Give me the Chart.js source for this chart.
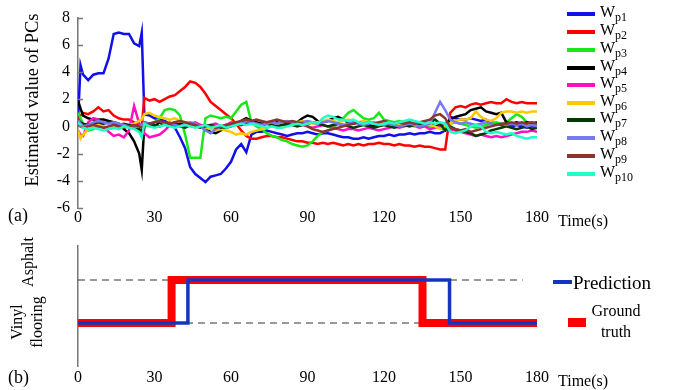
<!DOCTYPE html>
<html><head><meta charset="utf-8">
<script src="https://cdn.jsdelivr.net/npm/chart.js@4.4.0/dist/chart.umd.min.js"></script>
<style>
html,body{margin:0;padding:0;background:#fff;}
#wrap{position:relative;width:677px;height:390px;overflow:hidden;font-family:'Liberation Serif','Times New Roman',serif;color:#000;}
canvas{position:absolute;}
.t{position:absolute;white-space:nowrap;line-height:1;}
.c{transform:translate(-50%,-50%);}
.r{transform:translate(-50%,-50%) rotate(-90deg);}
.sw{position:absolute;}
sub{font-size:12px;vertical-align:-4px;line-height:0;}
</style></head><body>
<div id="wrap">
<canvas id="c1" width="560" height="232" style="left:0;top:0"></canvas>
<canvas id="c2" width="560" height="158" style="left:0;top:232px"></canvas>
<div class="t r" style="left:32px;top:100px;font-size:18.5px">Estimated value of PCs</div>
<div class="t" style="left:8px;top:206px;font-size:18px">(a)</div>
<div class="t" style="left:558px;top:213px;font-size:16px">Time(s)</div>
<div class="t" style="left:8px;top:368px;font-size:18px">(b)</div>
<div class="t" style="left:558px;top:373px;font-size:16px">Time(s)</div>
<div class="t r" style="left:28px;top:262px;font-size:16px">Asphalt</div>
<div class="t r" style="left:17px;top:322px;font-size:16px">Vinyl</div>
<div class="t r" style="left:37px;top:322px;font-size:16px">flooring</div>
<div id="leg1"></div>
<div class="sw" style="left:553px;top:280px;width:19px;height:4px;background:#1535c0"></div>
<div class="t" style="left:573px;top:273px;font-size:19px">Prediction</div>
<div class="sw" style="left:568px;top:318px;width:18px;height:9px;background:#ff0000"></div>
<div class="t c" style="left:616px;top:311px;font-size:16px">Ground</div>
<div class="t c" style="left:616px;top:332px;font-size:16px">truth</div>
</div>
<script>
const SERIF = "'Liberation Serif','Times New Roman',serif";

const time = [0,1,2,4,6,8,10,12,14,16,18,20,22,
  24,25,26,
  28,30,32,34,36,38,40,42,44,46,
  48,50,52,54,56,58,60,62,64,66,
  68,70,72,74,76,78,80,82,84,86,
  88,90,92,94,96,98,100,102,104,106,
  108,110,112,114,116,118,120,122,124,126,
  128,130,132,134,136,138,140,142,144,146,
  148,150,152,154,156,158,160,162,164,166,
  168,170,172,174,176,178,180];

const wp1 = [0.4,4.5,3.8,3.4,3.8,3.9,3.9,5.0,6.8,6.9,6.8,6.8,6.1,
  5.9,6.9,0.9,
  0.8,0.6,0.5,0.4,0.2,-0.1,-0.8,-1.6,-3.0,-3.5,
  -3.8,-4.1,-3.7,-3.6,-3.5,-3.1,-2.6,-1.7,-1.3,-1.9,
  -0.6,-0.4,-0.4,-0.3,-0.4,-0.5,-0.6,-0.7,-0.6,-0.5,
  -0.5,-0.4,-0.5,-0.6,-0.5,-0.5,-0.6,-0.7,-0.8,-0.8,
  -0.9,-0.9,-0.8,-0.9,-0.8,-0.7,-0.7,-0.6,-0.7,-0.6,
  -0.6,-0.5,-0.6,-0.5,-0.5,-0.4,-0.5,-0.5,-0.3,0.7,
  0.6,0.5,0.5,0.6,0.5,0.4,0.5,0.3,0.2,0.1,
  0.1,0.0,0.1,0.0,-0.1,0.0,0.0];

const wp2 = [0.4,0.8,1.0,0.9,1.1,1.4,1.1,1.2,0.8,0.6,0.5,0.5,0.3,
  0.1,0.0,2.1,
  1.9,2.0,1.8,2.0,2.2,2.3,2.6,2.9,3.3,3.2,
  2.9,2.4,1.8,1.5,1.2,0.9,0.6,0.2,-0.3,-0.7,
  -0.9,-0.9,-0.8,-0.7,-0.7,-0.8,-0.8,-0.9,-1.0,-1.1,
  -1.1,-1.2,-1.2,-1.3,-1.2,-1.3,-1.2,-1.3,-1.4,-1.3,
  -1.4,-1.3,-1.4,-1.3,-1.3,-1.2,-1.3,-1.3,-1.4,-1.3,
  -1.4,-1.4,-1.5,-1.4,-1.5,-1.5,-1.6,-1.7,-1.7,1.0,
  1.4,1.5,1.4,1.6,1.7,1.6,1.7,1.8,1.7,1.7,
  2.0,1.8,1.7,1.8,1.7,1.7,1.7];

const wp3 = [1.0,0.6,0.2,-0.3,-0.2,0.0,-0.1,-0.2,-0.1,0.0,0.1,0.0,-0.1,
  -0.3,-0.6,0.0,
  0.1,0.3,0.6,1.2,1.3,1.2,0.8,-0.6,-2.3,-2.3,
  -2.3,0.6,0.8,0.7,0.6,0.7,0.6,1.1,1.6,1.8,
  0.3,0.0,-0.2,-0.5,-0.7,-0.8,-1.0,-1.1,-1.3,-1.4,
  -1.5,-1.4,-1.1,-0.7,-0.4,-0.3,-0.1,0.2,0.6,1.0,
  1.2,0.9,0.6,0.5,0.6,1.0,0.5,0.4,0.3,0.4,
  0.3,0.3,0.2,0.3,0.1,0.0,0.0,-0.1,-0.3,0.2,
  0.3,0.2,0.1,0.0,-0.1,0.0,0.1,0.2,0.3,0.2,
  0.3,0.6,0.9,0.7,0.3,0.3,0.2];

const wp4 = [1.9,1.3,0.8,0.6,0.5,0.5,0.5,0.4,0.3,0.2,-0.2,-0.5,-1.1,
  -2.0,-3.2,0.1,
  0.2,0.0,0.3,0.2,0.1,0.0,0.2,0.3,0.1,0.0,
  0.1,-0.2,-0.4,-0.5,-0.3,-0.1,0.0,0.2,0.4,0.6,
  0.4,0.3,0.2,0.3,0.2,0.3,0.2,0.1,0.2,0.3,
  0.6,0.8,0.7,0.4,0.3,0.4,0.6,0.7,0.5,0.3,
  0.2,0.3,0.2,0.1,0.0,0.1,0.2,0.0,0.1,0.2,
  0.3,0.2,0.1,0.2,0.3,0.2,0.0,0.1,0.2,0.5,
  0.7,0.8,0.9,1.2,1.3,1.4,1.1,1.0,0.9,1.0,
  0.3,0.2,0.3,0.2,0.3,0.2,0.3];

const wp5 = [-0.3,-0.6,-0.7,0.3,0.6,0.5,0.0,-0.4,-0.7,-0.6,-0.8,-0.3,1.5,
  0.2,0.0,-0.5,
  -0.8,-0.7,-0.6,-0.3,0.1,0.2,0.0,0.1,0.2,0.3,
  0.1,0.0,0.1,0.2,0.0,0.1,0.3,0.2,0.1,0.4,
  0.3,0.2,0.1,0.2,0.3,0.2,0.1,0.2,0.3,0.2,
  0.1,0.0,-0.1,0.0,0.1,0.0,-0.1,-0.2,-0.3,-0.2,
  -0.2,-0.3,-0.2,-0.1,-0.2,-0.3,-0.2,-0.1,0.0,-0.1,
  0.0,0.1,0.0,-0.1,0.0,-0.2,-0.1,0.0,0.2,-0.2,
  -0.3,-0.4,-0.5,-0.6,-0.7,-0.6,-0.7,-0.8,-0.7,-0.8,
  -0.7,-0.6,-0.5,-0.4,-0.4,-0.3,-0.4];

const wp6 = [-0.3,-0.9,-0.6,-0.2,0.0,0.1,0.0,-0.1,0.0,0.1,0.0,0.1,0.2,
  0.4,0.5,0.9,
  1.0,0.8,0.7,0.6,0.5,0.6,0.4,0.3,0.2,0.1,
  0.0,-0.1,-0.2,-0.3,-0.2,-0.3,-0.4,-0.6,-0.5,-0.6,
  -0.4,-0.3,-0.2,-0.1,0.0,0.1,0.2,0.3,0.2,0.3,
  0.4,0.3,0.2,0.3,0.4,0.5,0.4,0.3,0.4,0.5,
  0.4,0.3,0.4,0.3,0.2,0.3,0.2,0.1,0.2,0.1,
  0.2,0.1,0.0,0.1,0.2,0.1,0.0,-0.2,0.0,0.2,
  0.4,0.5,0.5,0.6,1.1,0.7,0.5,0.4,0.6,1.0,
  1.1,1.1,1.0,1.1,1.0,1.1,1.1];

const wp7 = [0.5,0.3,0.2,0.1,0.2,0.3,0.2,0.3,0.2,0.1,0.2,0.1,0.0,
  -0.2,-0.4,0.3,
  0.2,0.1,0.0,0.2,0.1,0.3,0.0,-0.1,0.1,0.0,
  -0.1,0.0,0.1,0.0,-0.1,0.0,0.1,0.2,0.1,0.2,
  0.3,0.2,0.1,0.2,0.1,0.0,0.1,0.2,0.1,0.0,
  0.1,0.2,0.3,0.2,0.1,0.0,0.1,0.2,0.1,0.0,
  -0.1,0.0,0.1,0.0,-0.1,0.0,0.1,0.0,-0.1,0.0,
  0.1,0.0,0.1,0.2,0.1,0.3,0.5,0.2,-0.3,0.0,
  -0.2,-0.3,-0.4,-0.5,-0.7,-0.6,-0.5,-0.3,-0.2,-0.1,
  0.0,-0.1,-0.2,-0.1,0.0,-0.2,-0.1];

const wp8 = [0.5,0.2,0.0,0.1,0.3,0.4,0.3,0.2,0.3,0.2,0.1,0.0,-0.1,
  0.0,0.1,0.3,
  0.2,0.3,0.4,0.2,0.3,0.1,0.0,0.2,0.3,0.2,
  0.0,-0.3,-0.5,-0.2,0.0,0.1,0.2,0.3,0.2,0.4,
  0.3,0.2,0.1,0.2,0.3,0.2,0.3,0.4,0.3,0.2,
  0.3,0.4,0.3,0.2,0.3,0.4,0.3,0.2,0.1,0.2,
  0.3,0.2,0.1,0.2,0.3,0.2,0.1,0.2,0.1,0.0,
  0.1,0.2,0.1,0.0,0.1,0.2,1.0,1.8,1.2,0.5,
  0.3,0.2,0.3,0.2,0.1,0.2,0.3,0.2,0.1,0.2,
  0.1,0.2,0.1,0.2,0.0,0.1,0.0];

const wp9 = [0.1,0.0,-0.1,0.0,0.1,0.0,-0.1,0.0,0.1,0.0,-0.1,0.0,0.1,
  0.0,-0.1,0.1,
  0.2,0.3,0.4,0.3,0.2,0.3,0.4,0.3,0.2,0.1,
  0.0,0.1,0.0,-0.1,0.0,0.1,0.2,0.3,0.4,0.5,
  0.4,0.5,0.4,0.3,0.4,0.5,0.4,0.3,0.4,0.3,
  0.2,0.0,-0.2,-0.3,-0.4,-0.3,-0.2,-0.1,0.0,0.1,
  0.2,0.3,0.2,0.3,0.2,0.3,0.4,0.3,0.2,0.3,
  0.2,0.3,0.2,0.3,0.4,0.5,0.8,0.9,0.6,-0.1,
  -0.2,-0.3,-0.2,-0.4,-0.3,-0.2,-0.1,0.0,0.1,0.2,
  0.2,0.3,0.2,0.3,0.2,0.3,0.2];

const wp10 = [0.3,0.1,-0.1,-0.2,-0.1,-0.2,-0.3,-0.2,-0.1,-0.2,0.0,-0.1,-0.2,
  -0.4,-0.8,0.2,
  0.0,-0.1,0.0,0.1,0.0,-0.1,0.0,0.1,0.0,-0.1,
  0.0,0.1,-0.1,0.0,0.1,-0.1,0.0,0.1,0.2,0.1,
  0.2,0.1,0.0,-0.1,0.0,-0.1,-0.1,0.0,0.1,0.2,
  0.1,0.2,0.3,0.2,0.6,0.8,0.7,0.5,0.5,0.4,
  0.5,0.3,0.2,0.3,0.2,0.1,0.2,0.3,0.2,0.3,
  0.4,0.5,0.4,0.3,0.2,0.3,0.2,0.3,0.2,-0.4,
  -0.5,-0.4,-0.3,0.0,0.1,0.0,-0.4,-0.5,-0.4,-0.5,
  -0.6,-0.5,-0.7,-0.8,-0.9,-0.8,-0.8];

const seriesNames = ['p1','p2','p3','p4','p5','p6','p7','p8','p9','p10'];
const seriesColors = ['#1010e8','#ff0000','#18e818','#000000','#ff10c0','#ffc800','#003a00','#7878f0','#8b3530','#20ffc8'];
const seriesData = [wp1,wp2,wp3,wp4,wp5,wp6,wp7,wp8,wp9,wp10];

// bottom panel
const xTicks = [0,30,60,90,120,150,180];
const gtTime = [0,36.7,135.1,180];
const gtState = [0,1,0,0];
const predTime = [0,43.1,145.7,180];
const predState = [0,1,0,0];
const refTime = [0,174.4];
const asphaltLevel = [1,1];
const vinylLevel = [0,0];

const pts = (xs, ys) => xs.map((x,i)=>({x:x,y:ys[i]}));

// legend (top)
const leg = document.getElementById('leg1');
const legY = [14,32,50,68,85,103,120,138,156,174];
seriesNames.forEach((n,i)=>{
  const sw = document.createElement('div');
  sw.className='sw';
  sw.style.cssText = `left:567px;top:${legY[i]-2}px;width:28px;height:4px;background:${seriesColors[i]}`;
  leg.appendChild(sw);
  const tx = document.createElement('div');
  tx.className='t';
  tx.style.cssText = `left:600px;top:${legY[i]-10}px;font-size:16px`;
  tx.innerHTML = 'W<sub>'+n+'</sub>';
  leg.appendChild(tx);
});

const inwardTicks = {
  id:'inwardTicks',
  afterDraw(chart){
    const s = chart.scales.y; const ctx = chart.ctx;
    if (!s.options.ticks.display) return;
    ctx.save(); ctx.strokeStyle='#777'; ctx.lineWidth=1.5;
    s.ticks.forEach(t=>{
      const y = Math.round(s.getPixelForValue(t.value))+0.5;
      ctx.beginPath(); ctx.moveTo(s.right, y); ctx.lineTo(s.right+5, y); ctx.stroke();
    });
    ctx.restore();
  }
};

const tickFont = {family:SERIF, size:16};

new Chart(document.getElementById('c1'), {
  type:'line',
  data:{datasets: seriesData.map((d,i)=>({
    label:'W'+seriesNames[i],
    data: pts(time,d),
    borderColor: seriesColors[i],
    backgroundColor: seriesColors[i],
    borderWidth: 2.5,
    pointRadius:0, tension:0, fill:false,
    order: 10-i
  }))},
  options:{
    responsive:false, animation:false, events:[],
    layout:{padding:{left:0,right:23,top:14,bottom:0}},
    plugins:{legend:{display:false},tooltip:{enabled:false}},
    scales:{
      x:{type:'linear',min:0,max:180,
        afterBuildTicks(s){ s.ticks = xTicks.map(v=>({value:v})); },
        ticks:{font:tickFont,color:'#000',padding:0,autoSkip:false,maxRotation:0},
        grid:{display:false,drawTicks:false},
        border:{display:false},
        afterFit(s){ s.height = 24; }},
      y:{min:-6,max:8,
        ticks:{stepSize:2,font:tickFont,color:'#000',padding:8},
        grid:{display:false,drawTicks:false},
        border:{display:true,color:'#777',width:1.5},
        afterFit(s){ s.width = 78; }}
    }
  },
  plugins:[inwardTicks]
});

new Chart(document.getElementById('c2'), {
  type:'line',
  data:{datasets:[
    {label:'Prediction', data: pts(predTime,predState), borderColor:'#1535c0', borderWidth:3.5, stepped:true, pointRadius:0, order:0, borderJoinStyle:'miter'},
    {label:'Ground truth', data: pts(gtTime,gtState), borderColor:'#ff0000', borderWidth:8, stepped:true, pointRadius:0, order:1, borderJoinStyle:'miter'},
    {label:'Asphalt ref', data: pts(refTime,asphaltLevel), borderColor:'#333', borderWidth:1, borderDash:[7,5], pointRadius:0, order:2},
    {label:'Vinyl ref', data: pts(refTime,vinylLevel), borderColor:'#333', borderWidth:1, borderDash:[7,5], pointRadius:0, order:3}
  ]},
  options:{
    responsive:false, animation:false, events:[],
    layout:{padding:{left:0,right:23,top:13.6,bottom:0}},
    plugins:{legend:{display:false},tooltip:{enabled:false}},
    scales:{
      x:{type:'linear',min:0,max:180,
        afterBuildTicks(s){ s.ticks = xTicks.map(v=>({value:v})); },
        ticks:{font:tickFont,color:'#000',padding:2,autoSkip:false,maxRotation:0},
        grid:{display:false,drawTicks:false},
        border:{display:false},
        afterFit(s){ s.height = 24; }},
      y:{min:-1,max:1.8,
        ticks:{display:false},
        grid:{display:false,drawTicks:false},
        border:{display:true,color:'#777',width:1.5},
        afterFit(s){ s.width = 78; }}
    }
  },
  plugins:[inwardTicks]
});
</script>
</body></html>
